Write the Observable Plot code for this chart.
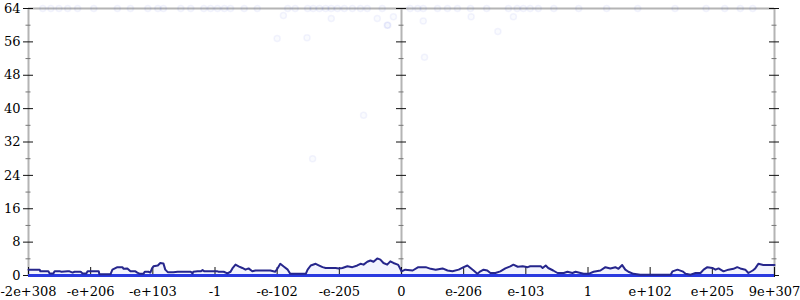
<!DOCTYPE html>
<html>
<head>
<meta charset="utf-8">
<script src="https://cdn.jsdelivr.net/npm/d3@7"></script>
<script src="https://cdn.jsdelivr.net/npm/@observablehq/plot@0.6"></script>
<style>
  html, body { margin: 0; padding: 0; background: #fff; overflow: hidden; }
  svg, svg text { font-family: "DejaVu Serif", "Liberation Serif", serif !important; }
</style>
</head>
<body>
<div id="chart"></div>
<script>
// x tick positions (ordered-float position) and their labels
const xTickPos = [-6, -5, -4, -3, -2, -1, 0, 1, 2, 3, 4, 5, 6];
const xTickLabels = ["-2e+308", "-e+206", "-e+103", "-1", "-e-102", "-e-205", "0",
                     "e-206", "e-103", "1", "e+102", "e+205", "9e+307"];
const yMajorTicks = [0, 8, 16, 24, 32, 40, 48, 56, 64];
const yMinorTicks = [4, 12, 20, 28, 36, 44, 52, 60];
const axisPositions = [-6, 0, 6];

// smoothed series (step-like running value)
const lineX = [-6.00,-5.82,-5.81,-5.68,-5.66,-5.60,-5.58,-5.49,-5.47,-5.37,-5.34,-5.29,-5.26,-5.16,-5.13,-5.07,-5.05,-4.87,-4.86,-4.68,
  -4.65,-4.57,-4.49,-4.47,-4.41,-4.36,-4.28,-4.25,-4.21,-4.15,-4.13,-4.07,-4.04,-4.01,-3.99,-3.92,-3.88,-3.83,-3.80,-3.76,
  -3.67,-3.60,-3.39,-3.36,-3.35,-3.28,-3.23,-3.20,-3.17,-2.96,-2.94,-2.86,-2.80,-2.75,-2.72,-2.67,-2.62,-2.56,-2.51,-2.46,
  -2.40,-2.35,-2.11,-2.03,-1.99,-1.95,-1.90,-1.83,-1.79,-1.54,-1.51,-1.46,-1.38,-1.34,-1.27,-1.22,-1.06,-1.01,-0.95,-0.87,
  -0.79,-0.71,-0.66,-0.61,-0.55,-0.50,-0.45,-0.39,-0.34,-0.29,-0.23,-0.18,-0.13,-0.06,-0.05,0.00,0.06,0.18,0.27,0.39,
  0.47,0.55,0.66,0.74,0.82,0.92,1.00,1.06,1.11,1.16,1.22,1.27,1.32,1.38,1.43,1.51,1.59,1.67,1.75,1.80,
  1.87,1.95,2.03,2.07,2.24,2.27,2.32,2.36,2.44,2.51,2.61,2.67,2.75,2.80,2.88,2.93,3.01,3.09,3.20,3.28,
  3.36,3.44,3.49,3.55,3.60,3.65,3.73,3.84,4.33,4.36,4.44,4.52,4.57,4.65,4.73,4.81,4.86,4.92,5.00,5.05,
  5.10,5.18,5.26,5.34,5.40,5.45,5.53,5.58,5.65,5.69,5.74,5.82,6.00];
const lineY = [1.4,1.4,1.0,1.0,0.5,0.5,1.0,1.0,0.9,1.0,1.0,0.7,0.9,0.9,0.5,0.5,1.0,1.0,0.3,0.3,
  1.4,2.0,2.0,1.6,1.7,1.0,1.0,0.7,0.4,0.4,0.9,0.9,0.7,1.8,2.2,2.4,3.0,2.9,1.4,0.8,
  0.8,0.9,0.9,0.5,0.9,1.0,1.0,1.3,1.0,1.0,0.9,0.9,0.5,0.9,1.7,2.6,2.2,1.8,1.4,1.7,
  1.0,1.2,1.2,0.9,1.8,2.8,2.2,1.4,0.4,0.4,1.4,2.4,2.8,2.5,2.0,1.8,1.8,1.7,1.8,2.2,
  2.0,2.4,2.8,2.6,3.3,3.6,3.3,4.1,3.8,3.0,2.6,3.4,3.0,2.6,2.5,1.0,1.4,1.2,2.0,2.0,
  1.6,1.4,1.7,1.2,1.0,1.4,2.0,2.4,1.8,1.2,0.4,1.0,1.4,1.2,0.6,0.6,1.0,1.7,2.2,2.6,
  2.1,2.2,2.0,2.2,2.2,1.8,2.4,1.8,1.2,0.6,0.6,0.9,0.6,0.9,0.6,0.4,0.4,0.9,1.2,2.0,
  1.7,2.0,1.6,2.5,1.4,0.9,0.4,0.2,0.2,1.0,1.4,1.0,0.4,0.2,0.6,0.6,1.4,2.0,1.8,1.4,
  1.7,1.0,1.4,1.6,2.0,1.7,1.4,0.6,1.2,1.7,2.8,2.5,2.5];

// faint individual samples
const dotX = [-5.77,-5.64,-5.51,-5.37,-5.21,-4.95,-4.57,-4.36,-4.08,-3.92,-3.83,-3.55,-3.39,-3.18,-3.07,-2.96,-2.85,-2.75,-2.53,-2.32,
  -1.83,-1.71,-1.51,-1.42,-1.32,-1.22,-1.13,-1.03,-0.92,-0.79,-0.66,-0.55,-0.31,-0.39,-0.23,-0.13,0.14,0.26,0.35,0.58,
  0.74,0.90,1.11,1.37,1.72,1.86,1.96,2.07,2.20,2.45,2.85,3.30,3.80,4.40,4.90,5.20,5.45,5.65,-1.90,-1.52,
  -1.43,-0.61,-2.00,-1.13,-0.22,0.35,1.12,1.55,1.80,0.37];
const dotY = [64,64,64,64,64,64,64,64,64,64,64,64,64,64,64,64,64,64,64,64,
  64,64,64,64,64,64,64,64,64,64,64,64,64,61.6,60,62,64,64,64,64,
  64,64,64,64,64,64,64,64,64,64,64,64,64,64,64,64,64,64,62.3,57,
  28,38.4,56.8,61.6,60,61,62,58.5,62,52.3];

const lineData = lineX.map((x, i) => ({x, y: lineY[i]}));
const dotData = dotX.map((x, i) => ({x, y: dotY[i]}));
const majorTickData = axisPositions.flatMap(a => yMajorTicks.map(y => ({a, y})));
const minorTickData = axisPositions.flatMap(a => yMinorTicks.map(y => ({a, y})));

const gray = "#b4b4b4";
const serif = "DejaVu Serif";
const chart = Plot.plot({
  width: 800,
  height: 300,
  marginLeft: 28,
  marginRight: 26,
  marginTop: 8,
  marginBottom: 25,
  style: {fontSize: "13px", background: "#fff", color: "#000"},
  x: {domain: [-6, 6], axis: null},
  y: {domain: [0, 64], axis: null},
  marks: [
    // frame-like axis lines
    Plot.ruleX(axisPositions, {stroke: gray, strokeWidth: 2}),
    Plot.ruleY([64], {stroke: gray, strokeWidth: 2}),
    // shading under the series
    Plot.areaY(lineData, {x: "x", y: "y", fill: "#5a6cf0", fillOpacity: 0.08}),
    // faint sample dots
    Plot.dot(dotData, {x: "x", y: "y", r: 3, fill: "#3a48e0", fillOpacity: 0.025, stroke: "#3a48e0", strokeOpacity: 0.06}),
    // y ticks on each vertical axis
    Plot.ruleY(minorTickData, {y: "y", x1: "a", x2: "a", insetLeft: -2.5, insetRight: -2.5, stroke: "#777"}),
    Plot.ruleY(majorTickData, {y: "y", x1: "a", x2: "a", insetLeft: -5, insetRight: -5, stroke: "#111"}),
    // x ticks
    Plot.ruleX(xTickPos, {x: d => d, y1: 0, y2: 0, insetTop: 2, insetBottom: 8, stroke: "#111"}),
    // baseline of zero-valued samples
    Plot.ruleY([0], {stroke: "#2a3ae0", strokeWidth: 3}),
    // the series
    Plot.line(lineData, {x: "x", y: "y", stroke: "#26268c", strokeWidth: 2}),
    // labels
    Plot.text(yMajorTicks, {x: -6, y: d => d, dx: -8, textAnchor: "end", text: d => String(d), fill: "#000", fontFamily: serif, fontSize: 13}),
    Plot.text(xTickPos, {x: d => d, y: 0, dy: 16, text: (d, i) => xTickLabels[i], fill: "#000", fontFamily: serif, fontSize: 13})
  ]
});
document.getElementById("chart").appendChild(chart);
</script>
</body>
</html>
